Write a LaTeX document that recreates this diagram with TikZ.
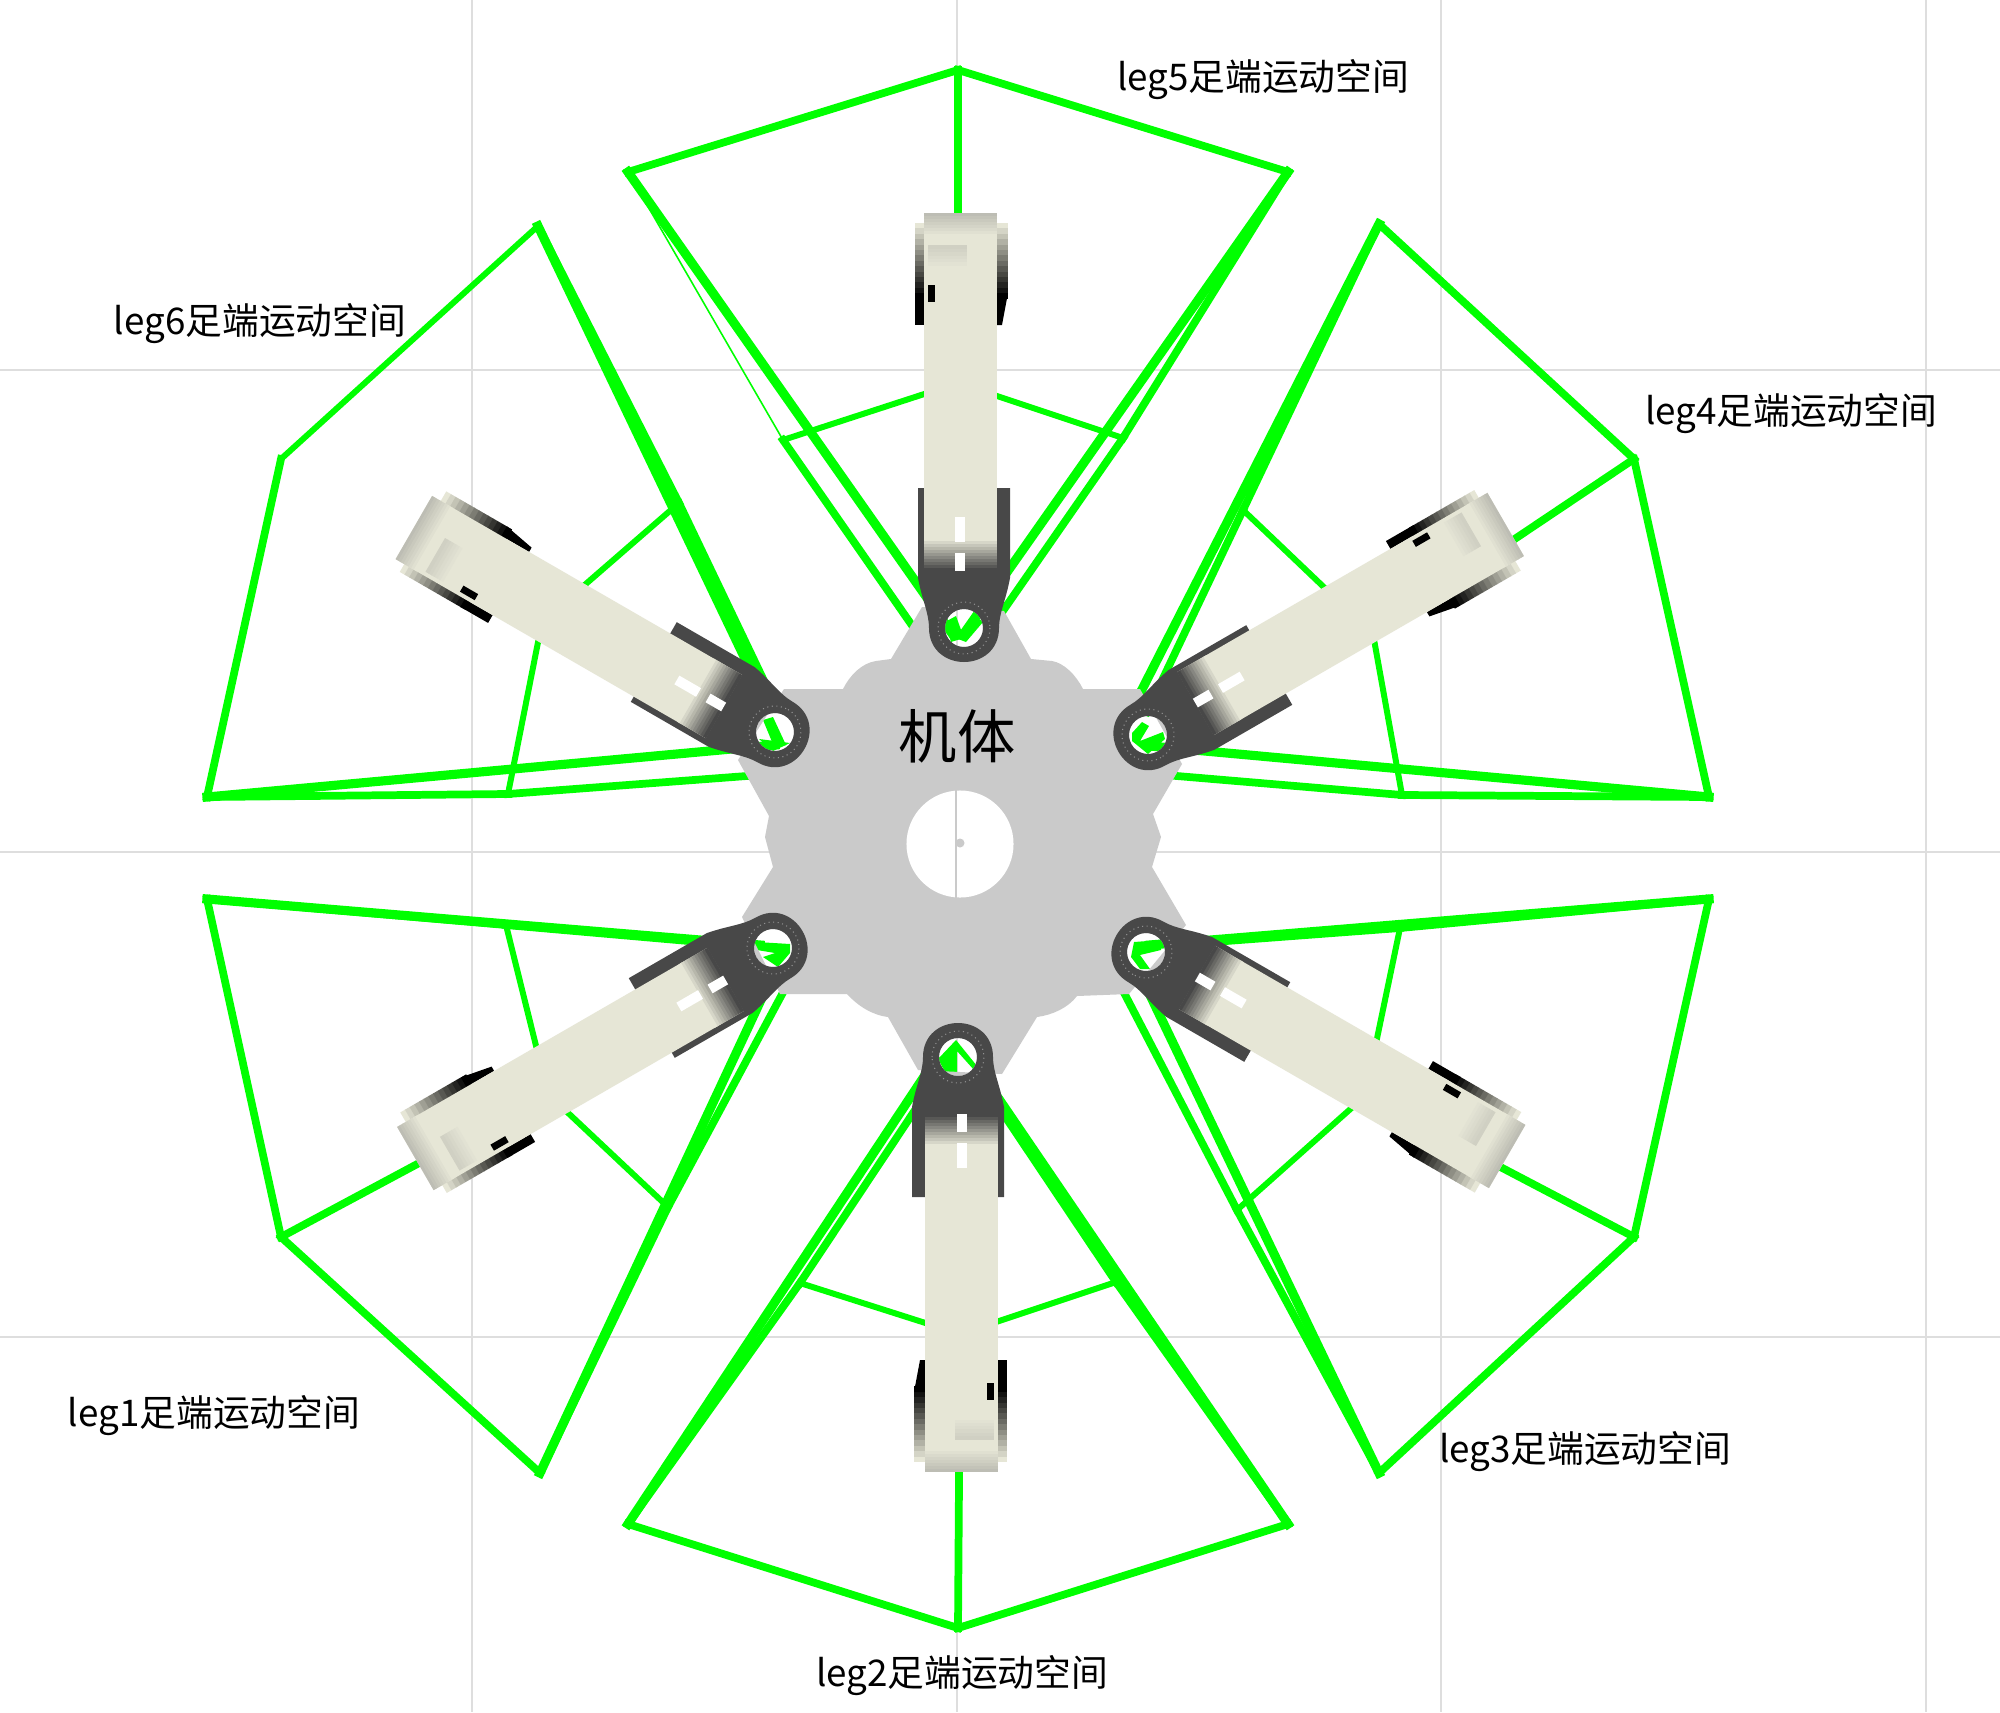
\documentclass[tikz,border=0pt]{standalone}
\usepackage{fontspec}
\usepackage{tikz}
\newfontfamily\cjk{Noto Sans CJK SC}
\definecolor{footgreen}{RGB}{0,255,0}
\definecolor{gridgray}{RGB}{222,222,222}
\definecolor{bodygray}{RGB}{202,202,202}
\definecolor{eargray}{RGB}{72,72,72}
\definecolor{linkcream}{RGB}{230,230,214}
\tikzset{
  grid line/.style = {draw=gridgray, line width = 0.7pt},
  foot/.style = {draw=footgreen, line cap = rect, line width = 2.2pt},
  thick foot/.style = {foot, line width = 2.6pt},
  slim foot/.style = {foot, line width = 1.7pt},
  hair foot/.style = {foot, line cap = butt, line width = 0.45pt},
  tag/.style = {draw=none, inner sep = 1, font=\cjk\fontsize{10.45}{12}\selectfont},
  leg/.pic = {
    % wheel seen behind the far end of the link
    \foreach \i in {0,...,13} {
      \pgfmathsetmacro{\p}{100-\i*100/13}
      \fill [linkcream!\p!black] (-49,-405+\i*5.4) rectangle (44,-405+\i*5.4+5.9);
    }
    \fill [black] (-49,-335) -- (-49,-303) -- (-40,-303) -- (-40,-335) -- cycle;
    \fill [black] (44,-335) -- (38,-303) -- (33,-303) -- (33,-335) -- cycle;
    % ear with its bearing hole
    \fill [eargray, even odd rule] (-46,-140) -- (-46,-50)
      .. controls (-42,-28) and (-35,-15) .. (-35,0)
      .. controls (-35,22) and (-18,34) .. (0,34)
      .. controls (18,34) and (35,22) .. (35,0)
      .. controls (35,-15) and (42,-28) .. (46,-50) -- (46,-140) -- cycle
      (0,0) circle (19);
    \draw [eargray!60!white, densely dotted, line width = 0.3pt] (0,0) circle (26);
    % link
    \fill [linkcream] (-40,-415) rectangle (33,-57);
    \foreach \i in {0,...,7} {
      \pgfmathsetmacro{\p}{60+\i*40/7}
      \fill [linkcream!\p!gray] (-40,-415+\i*3) rectangle (33,-415+\i*3+3.5);
    }
    \foreach \i in {0,...,10} {
      \pgfmathsetmacro{\p}{100-\i*100/10}
      \fill [linkcream!\p!eargray] (-40,-90+\i*3) rectangle (33,-90+\i*3+3.5);
    }
    \foreach \i in {0,...,6} {
      \pgfmathsetmacro{\p}{100-\i*22/6}
      \fill [linkcream!\p!gray] (-36,-363-\i*3.3) rectangle (3,-363-\i*3.3+3.8);
    }
    \fill [black] (-36,-343) rectangle (-29,-326);
    \fill [white] (-9,-111) rectangle (1,-86);
    \fill [white] (-9,-75) rectangle (1,-57);
  }
}

\begin{document}
\begin{tikzpicture}[x=0.01cm, y=-0.01cm]
\useasboundingbox (0,0) rectangle (2000,1712);
\fill [white] (0,0) rectangle (2000,1712);
\draw [grid line] (472,0) -- (472,1712);
\draw [grid line] (957,0) -- (957,1712);
\draw [grid line] (1441,0) -- (1441,1712);
\draw [grid line] (1926,0) -- (1926,1712);
\draw [grid line] (0,370) -- (2000,370);
\draw [grid line] (0,852) -- (2000,852);
\draw [grid line] (0,1337) -- (2000,1337);

% foot spaces: H hip, A B C outer rim, P Q R inner rim, V U S T hidden line ends
\coordinate (H1) at (773,948);
\coordinate (A1) at (207,899);
\coordinate (B1) at (281,1237);
\coordinate (C1) at (540,1473);
\coordinate (P1) at (506,925);
\coordinate (Q1) at (548,1094);
\coordinate (R1) at (668,1207);
\coordinate (V1) at (760,945);
\coordinate (U1) at (760,1002);
\coordinate (S1) at (700,942);
\coordinate (T1) at (787,985);

\coordinate (H2) at (958,1057);
\coordinate (A2) at (628,1524);
\coordinate (B2) at (958,1628);
\coordinate (C2) at (1288,1524);
\coordinate (P2) at (800,1283);
\coordinate (Q2) at (960,1334);
\coordinate (R2) at (1116,1282);
\coordinate (V2) at (935,1060);
\coordinate (U2) at (986,1080);
\coordinate (S2) at (925,1095);
\coordinate (T2) at (982,1082);

\coordinate (H3) at (1146,952);
\coordinate (A3) at (1709,899);
\coordinate (B3) at (1634,1237);
\coordinate (C3) at (1379,1473);
\coordinate (P3) at (1400,928);
\coordinate (Q3) at (1365,1096);
\coordinate (R3) at (1237,1210);
\coordinate (V3) at (1150,945);
\coordinate (U3) at (1150,995);
\coordinate (S3) at (1213,942);
\coordinate (T3) at (1120,985);

\coordinate (H4) at (1148,735);
\coordinate (A4) at (1709,797);
\coordinate (B4) at (1634,459);
\coordinate (C4) at (1379,224);
\coordinate (P4) at (1402,795);
\coordinate (Q4) at (1373,634);
\coordinate (R4) at (1243,510);
\coordinate (V4) at (1150,746);
\coordinate (U4) at (1130,713);
\coordinate (S4) at (1165,775);
\coordinate (T4) at (1147,712);

\coordinate (H5) at (964,628);
\coordinate (A5) at (628,172);
\coordinate (B5) at (958,70);
\coordinate (C5) at (1288,172);
\coordinate (P5) at (783,440);
\coordinate (Q5) at (958,383);
\coordinate (R5) at (1123,438);
\coordinate (V5) at (951,632);
\coordinate (U5) at (965,632);
\coordinate (S5) at (918,634);
\coordinate (T5) at (998,618);

\coordinate (H6) at (775,732);
\coordinate (A6) at (207,797);
\coordinate (B6) at (281,459);
\coordinate (C6) at (538,226);
\coordinate (P6) at (508,794);
\coordinate (Q6) at (542,622);
\coordinate (R6) at (679,503);
\coordinate (V6) at (775,745);
\coordinate (U6) at (760,690);
\coordinate (S6) at (760,775);
\coordinate (T6) at (766,685);

\foreach \k in {1,...,6} {
  \draw [thick foot] (V\k) -- (A\k);
  \draw [thick foot] (U\k) -- (C\k);
  \draw [foot] (A\k) -- (B\k);
  \draw [foot] (S\k) -- (P\k);
  \draw [foot] (T\k) -- (R\k);
  \draw [foot] (C\k) -- (R\k);
  \draw [slim foot] (P\k) -- (Q\k) -- (R\k);
}
\foreach \k in {1,2,3,4,6} {
  \draw [foot] (A\k) -- (P\k);
}
\draw [hair foot] (A5) -- (P5);
\foreach \k in {1,...,5} {
  \draw [foot] (B\k) -- (C\k);
  \draw [foot] (B\k) -- (Q\k);
}
\draw [slim foot] (B6) -- (C6);

% green seen through the hip holes
\fill [footgreen] (757,942) -- (790,944) -- (790,953) -- (778,967) -- (763,957) -- (775,953) -- (757,950) -- cycle;
\fill [footgreen] (956,1040) -- (977,1066) -- (974,1070) -- (957,1051) -- (957,1074) -- (945,1072) -- (938,1059) -- cycle;
\fill [footgreen] (1134,942) -- (1161,940) -- (1161,950) -- (1140,955) -- (1150,969) -- (1140,969) -- (1131,957) -- cycle;
\fill [footgreen] (1142,722) -- (1149,726) -- (1140,741) -- (1163,732) -- (1165,739) -- (1148,754) -- (1132,741) -- (1132,733) -- cycle;
\fill [footgreen] (945,622) -- (956,616) -- (964,638) -- (951,642) -- cycle;
\fill [footgreen] (977,617) -- (983,622) -- (966,642) -- (958,639) -- cycle;
\fill [footgreen] (763,720) -- (773,717) -- (786,745) -- (775,749) -- cycle;
\fill [footgreen] (759,739) -- (790,743) -- (773,751) -- cycle;

% body plate
\fill [bodygray, even odd rule] (922,607) -- (891,659) -- (876,661)
  .. controls (862,663) and (850,675) .. (843,689) -- (784,689) -- (738,760)
  -- (769,816) -- (765,837) -- (773,867) -- (742,917) -- (780,994) -- (847,994)
  .. controls (858,1006) and (872,1015) .. (888,1017) -- (918,1070) -- (1002,1074)
  -- (1037,1017) .. controls (1052,1015) and (1068,1008) .. (1077,996) -- (1129,994)
  -- (1186,925) -- (1152,867) -- (1161,837) -- (1153,814) -- (1182,764) -- (1140,689)
  -- (1083,689) .. controls (1076,675) and (1064,663) .. (1052,661) -- (1031,659)
  -- (1004,611) -- cycle
  (H1) circle (19) (H2) circle (19) (H3) circle (19)
  (H4) circle (19) (H5) circle (19) (H6) circle (19);
\node [draw=none, circle, fill=white, minimum size=1.07cm, inner sep = 0] (hole) at (960,844) {};
\draw [bodygray, line width = 0.6pt] (hole.north -| 956,0) -- (hole.south -| 956,0);
\node [draw=none, circle, fill=bodygray, minimum size=0.09cm, inner sep = 0] (pin) at (960,843) {};

% legs
\pic [rotate=120] at (H1) {leg};
\pic [rotate=180] at (H2) {leg};
\pic [rotate=-120] at (H3) {leg};
\pic [rotate=-60] at (H4) {leg};
\pic at (H5) {leg};
\pic [rotate=60] at (H6) {leg};

% labels
\node [tag] (L1) at (214,1416) {leg1足端运动空间};
\node [tag] (L2) at (962,1676) {leg2足端运动空间};
\node [tag] (L3) at (1585,1452) {leg3足端运动空间};
\node [tag] (L4) at (1791,414) {leg4足端运动空间};
\node [tag] (L5) at (1263,80) {leg5足端运动空间};
\node [tag] (L6) at (260,324) {leg6足端运动空间};
\node [draw=none, inner sep = 1, font=\cjk\fontsize{16.6}{18}\selectfont] (body) at (957,736) {机体};
\end{tikzpicture}
\end{document}
